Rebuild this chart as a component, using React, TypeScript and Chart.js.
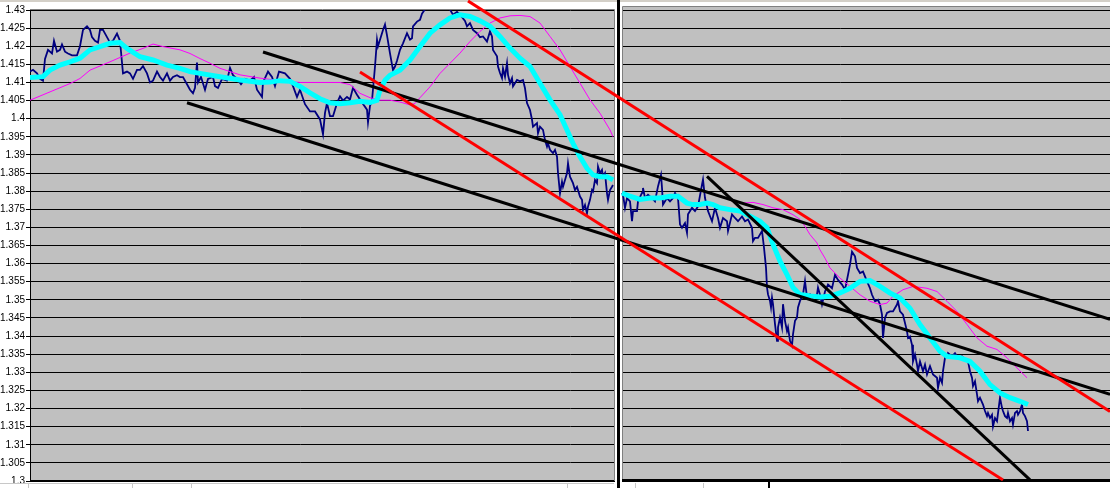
import React, { useEffect, useRef } from 'react';
import { Chart, registerables } from 'chart.js';

Chart.register(...registerables);

// ---- axis ----
const yTicks = [1.3, 1.305, 1.31, 1.315, 1.32, 1.325, 1.33, 1.335, 1.34, 1.345, 1.35, 1.355, 1.36, 1.365, 1.37, 1.375, 1.38, 1.385, 1.39, 1.395, 1.4, 1.405, 1.41, 1.415, 1.42, 1.425, 1.43];
const yTickLabels = ['1.3', '1.305', '1.31', '1.315', '1.32', '1.325', '1.33', '1.335', '1.34', '1.345', '1.35', '1.355', '1.36', '1.365', '1.37', '1.375', '1.38', '1.385', '1.39', '1.395', '1.4', '1.405', '1.41', '1.415', '1.42', '1.425', '1.43'];
const timeMin = 30;
const timeMax = 1110;
const leftPanelEnd = 614;
const rightPanelStart = 622;

// ---- left panel: price ----
const leftTime = [30, 33, 37, 40, 43, 45, 48, 52, 54, 57, 60, 62, 65, 68, 72, 77, 80, 83, 87, 90, 92, 95, 98, 100, 103, 107, 110, 113, 117, 120, 123, 127, 130, 133, 137, 140, 143, 147, 150, 153, 157, 160, 163, 167, 170, 173, 177, 180, 183, 187, 190, 193, 195, 197, 198, 201, 205, 208, 213, 215, 218, 222, 227, 230, 233, 237, 241, 245, 250, 254, 257, 262, 263, 268, 272, 275, 279, 285, 290, 293, 297, 300, 305, 310, 315, 320, 323, 325, 327, 330, 333, 337, 340, 343, 347, 350, 353, 357, 362, 367, 368, 370, 372, 375, 377, 378, 380, 383, 385, 387, 390, 393, 395, 397, 400, 403, 407, 410, 412, 413, 417, 420, 422, 425, 428, 432, 436, 440, 444, 448, 450, 453, 457, 460, 465, 467, 470, 473, 477, 480, 483, 487, 490, 492, 493, 495, 497, 498, 500, 502, 503, 505, 507, 508, 510, 512, 513, 517, 520, 523, 525, 527, 530, 532, 533, 537, 538, 540, 543, 545, 547, 548, 550, 553, 555, 557, 558, 560, 562, 563, 565, 567, 568, 570, 573, 575, 577, 580, 582, 583, 585, 587, 588, 590, 592, 593, 595, 597, 598, 600, 602, 603, 605, 607, 608, 610, 612, 613];
const leftPrice = [1.413, 1.4135, 1.4125, 1.411, 1.4105, 1.4165, 1.419, 1.418, 1.4215, 1.4185, 1.419, 1.4205, 1.4185, 1.418, 1.4175, 1.4175, 1.42, 1.4245, 1.4255, 1.4245, 1.4225, 1.4215, 1.421, 1.4245, 1.4245, 1.4225, 1.421, 1.4215, 1.4235, 1.4215, 1.4125, 1.413, 1.4125, 1.411, 1.4135, 1.4135, 1.4145, 1.4125, 1.41, 1.4105, 1.413, 1.4115, 1.4105, 1.4125, 1.4105, 1.4115, 1.412, 1.4115, 1.4115, 1.4095, 1.408, 1.407, 1.4085, 1.4155, 1.41, 1.4115, 1.408, 1.411, 1.4115, 1.409, 1.4085, 1.411, 1.4105, 1.414, 1.412, 1.411, 1.4095, 1.411, 1.4105, 1.4115, 1.408, 1.406, 1.41, 1.413, 1.4115, 1.409, 1.413, 1.4125, 1.411, 1.409, 1.406, 1.408, 1.404, 1.402, 1.402, 1.3998, 1.3957, 1.4016, 1.4043, 1.4007, 1.4007, 1.4043, 1.4062, 1.405, 1.406, 1.4053, 1.4085, 1.4066, 1.4045, 1.4025, 1.399, 1.4035, 1.405, 1.4144, 1.4218, 1.42, 1.4218, 1.4245, 1.426, 1.423, 1.418, 1.4134, 1.4144, 1.416, 1.419, 1.4208, 1.4236, 1.4218, 1.4222, 1.4255, 1.4268, 1.4273, 1.429, 1.4302, 1.4315, 1.432, 1.4325, 1.4318, 1.4322, 1.4312, 1.4301, 1.4287, 1.4295, 1.4287, 1.427, 1.4255, 1.4264, 1.4245, 1.4236, 1.4225, 1.4227, 1.4213, 1.4241, 1.4227, 1.419, 1.4181, 1.4172, 1.4144, 1.4126, 1.4112, 1.4139, 1.4116, 1.4153, 1.4121, 1.4098, 1.4112, 1.4089, 1.4107, 1.4103, 1.4107, 1.4084, 1.4043, 1.4024, 1.3997, 1.3978, 1.3988, 1.396, 1.3978, 1.3969, 1.3941, 1.3923, 1.3932, 1.3914, 1.3905, 1.3914, 1.3895, 1.385, 1.3794, 1.3826, 1.3812, 1.3831, 1.385, 1.3877, 1.384, 1.3822, 1.3803, 1.3812, 1.3785, 1.3776, 1.3748, 1.3762, 1.3739, 1.3757, 1.3776, 1.3803, 1.3799, 1.3831, 1.3822, 1.3868, 1.385, 1.3859, 1.384, 1.385, 1.3794, 1.3776, 1.3803, 1.3812, 1.3817];

// ---- left panel: short moving average (cyan) ----
const leftFastTime = [30, 43, 50, 60, 70, 80, 90, 100, 110, 120, 127, 140, 153, 167, 180, 190, 200, 220, 240, 260, 270, 280, 290, 300, 310, 320, 330, 340, 350, 360, 370, 377, 380, 385, 390, 400, 410, 420, 430, 440, 450, 460, 470, 480, 490, 500, 510, 520, 530, 540, 550, 560, 567, 573, 580, 587, 593, 600, 607, 613];
const leftFastMA = [1.4114, 1.4116, 1.4134, 1.4148, 1.4157, 1.4167, 1.419, 1.4199, 1.4208, 1.421, 1.4194, 1.4171, 1.4162, 1.4148, 1.4139, 1.413, 1.4125, 1.4116, 1.4107, 1.41, 1.4101, 1.4105, 1.4103, 1.4089, 1.4071, 1.4055, 1.4044, 1.4041, 1.4044, 1.4048, 1.4045, 1.4051, 1.4079, 1.4106, 1.412, 1.4134, 1.4162, 1.4199, 1.4236, 1.4259, 1.4278, 1.4287, 1.4282, 1.427, 1.4255, 1.4227, 1.4195, 1.4167, 1.4144, 1.4098, 1.4052, 1.4011, 1.3969, 1.3932, 1.3895, 1.3863, 1.3845, 1.384, 1.384, 1.3831];

// ---- left panel: long moving average (magenta) ----
const leftSlowTime = [30, 50, 70, 80, 90, 110, 130, 143, 153, 163, 180, 190, 200, 210, 220, 240, 260, 280, 300, 320, 340, 350, 360, 370, 380, 390, 400, 410, 415, 420, 430, 440, 450, 460, 470, 480, 490, 500, 510, 520, 530, 540, 550, 560, 570, 580, 590, 600, 610, 613];
const leftSlowMA = [1.4051, 1.4074, 1.4097, 1.4111, 1.4134, 1.4157, 1.4181, 1.4194, 1.4206, 1.4199, 1.419, 1.418, 1.4166, 1.4153, 1.4139, 1.4121, 1.4112, 1.4105, 1.41, 1.41, 1.41, 1.4094, 1.407, 1.4058, 1.4051, 1.4051, 1.4046, 1.4038, 1.4042, 1.4058, 1.4088, 1.4125, 1.4153, 1.4181, 1.4213, 1.4241, 1.4264, 1.4278, 1.4284, 1.4285, 1.4282, 1.4264, 1.4227, 1.419, 1.4144, 1.4098, 1.4052, 1.4015, 1.3969, 1.395];

// ---- right panel: price ----
const rightTime = [622, 623, 625, 627, 630, 632, 633, 637, 638, 642, 643, 645, 648, 652, 655, 658, 661, 662, 663, 667, 670, 673, 675, 678, 680, 682, 685, 687, 688, 692, 695, 698, 702, 703, 705, 708, 712, 715, 718, 720, 723, 727, 728, 732, 735, 738, 742, 745, 748, 752, 753, 755, 758, 762, 764, 766, 767, 768, 770, 771, 772, 773, 775, 777, 778, 780, 782, 783, 785, 787, 788, 790, 792, 793, 795, 797, 798, 800, 803, 805, 807, 810, 813, 817, 818, 820, 822, 825, 828, 832, 835, 838, 842, 845, 848, 850, 852, 855, 857, 860, 863, 867, 870, 872, 875, 878, 880, 882, 883, 885, 887, 890, 893, 897, 898, 900, 903, 907, 908, 910, 912, 913, 915, 917, 918, 920, 923, 925, 927, 930, 933, 937, 938, 940, 942, 943, 945, 947, 948, 952, 955, 958, 962, 965, 968, 970, 972, 973, 975, 977, 978, 980, 983, 985, 987, 988, 990, 992, 993, 995, 997, 1000, 1002, 1003, 1005, 1007, 1008, 1010, 1012, 1013, 1015, 1017, 1018, 1020, 1022, 1023, 1025, 1027, 1028];
const rightPrice = [1.3795, 1.379, 1.3754, 1.3781, 1.3772, 1.3717, 1.3745, 1.3745, 1.3772, 1.3795, 1.3809, 1.3781, 1.379, 1.3781, 1.3772, 1.3813, 1.3845, 1.3809, 1.3763, 1.3781, 1.3772, 1.3781, 1.3795, 1.3781, 1.3708, 1.3699, 1.3712, 1.3685, 1.3736, 1.3754, 1.3745, 1.3758, 1.3818, 1.3832, 1.3781, 1.3745, 1.3717, 1.3754, 1.3726, 1.3699, 1.3726, 1.3717, 1.369, 1.3736, 1.3726, 1.3717, 1.373, 1.3717, 1.3722, 1.3699, 1.3662, 1.3671, 1.3671, 1.369, 1.3644, 1.3589, 1.3534, 1.3515, 1.3497, 1.3479, 1.3506, 1.3488, 1.3433, 1.3387, 1.3424, 1.3451, 1.3424, 1.3488, 1.3442, 1.3414, 1.3424, 1.3387, 1.3374, 1.3405, 1.3442, 1.3451, 1.3479, 1.3497, 1.3515, 1.3552, 1.3506, 1.3515, 1.3506, 1.3515, 1.3534, 1.3514, 1.3487, 1.3523, 1.3542, 1.3532, 1.3569, 1.3555, 1.3542, 1.3528, 1.3569, 1.3597, 1.3633, 1.362, 1.3588, 1.3574, 1.3578, 1.3551, 1.3532, 1.3514, 1.3496, 1.35, 1.3487, 1.3459, 1.3395, 1.345, 1.3464, 1.3468, 1.3468, 1.3487, 1.3496, 1.3468, 1.3459, 1.3413, 1.3395, 1.3399, 1.3376, 1.333, 1.3349, 1.3321, 1.3303, 1.333, 1.3303, 1.3321, 1.3294, 1.3317, 1.3294, 1.3285, 1.3257, 1.3285, 1.3271, 1.3303, 1.334, 1.3344, 1.3353, 1.3344, 1.3353, 1.334, 1.3344, 1.3335, 1.333, 1.3303, 1.3285, 1.3262, 1.3275, 1.3239, 1.322, 1.323, 1.3211, 1.3193, 1.3179, 1.3188, 1.3174, 1.3183, 1.3151, 1.3174, 1.3165, 1.323, 1.3202, 1.3193, 1.3179, 1.3174, 1.3188, 1.3165, 1.3174, 1.3156, 1.3188, 1.3193, 1.3183, 1.3193, 1.3211, 1.3188, 1.3179, 1.3165, 1.3138];

// ---- right panel: short moving average (cyan) ----
const rightFastTime = [622, 630, 640, 650, 660, 670, 678, 687, 693, 700, 707, 713, 720, 730, 740, 750, 760, 767, 773, 780, 787, 793, 800, 810, 820, 830, 840, 850, 860, 870, 880, 890, 900, 910, 920, 930, 940, 947, 960, 970, 980, 990, 1000, 1010, 1020, 1028];
const rightFastMA = [1.3795, 1.3786, 1.3777, 1.3781, 1.3781, 1.3786, 1.3786, 1.3767, 1.3763, 1.3763, 1.3767, 1.3763, 1.3754, 1.3749, 1.3745, 1.3731, 1.3717, 1.3699, 1.3653, 1.3607, 1.357, 1.3534, 1.3515, 1.3511, 1.3508, 1.351, 1.3519, 1.3532, 1.3551, 1.3553, 1.3537, 1.3519, 1.3505, 1.3477, 1.3432, 1.3395, 1.3358, 1.3344, 1.334, 1.333, 1.3303, 1.3266, 1.3243, 1.323, 1.322, 1.3211];

// ---- right panel: long moving average (magenta) ----
const rightSlowTime = [743, 753, 763, 773, 783, 793, 800, 805, 810, 817, 820, 825, 830, 840, 850, 860, 870, 880, 887, 893, 903, 913, 927, 937, 947, 957, 967, 977, 987, 997, 1007, 1017, 1027];
const rightSlowMA = [1.3767, 1.3769, 1.3763, 1.3754, 1.3749, 1.3735, 1.3722, 1.3703, 1.368, 1.3657, 1.3638, 1.3615, 1.3588, 1.356, 1.3537, 1.3514, 1.3496, 1.3487, 1.3491, 1.351, 1.3528, 1.3537, 1.3532, 1.3523, 1.3496, 1.3468, 1.3432, 1.3395, 1.3372, 1.3363, 1.334, 1.3312, 1.3285];

// ---- hand-drawn trend channels ----
const redUpperTime = [468, 1110];
const redUpper = [1.4325, 1.3192];
const redLowerTime = [360, 1003];
const redLower = [1.4129, 1.3003];
const blackUpperTime = [263, 1110];
const blackUpper = [1.4184, 1.3446];
const blackLowerTime = [187, 1110];
const blackLower = [1.4044, 1.3239];
const blackSteepTime = [707, 1030];
const blackSteep = [1.3841, 1.3003];

const pts = (xs: number[], ys: number[]) => xs.map((x, i) => ({ x, y: ys[i] }));

const framePlugin = {
  id: 'frame',
  beforeDraw(chart: any) {
    const { ctx, chartArea: a, scales } = chart;
    const x = scales.x;
    const rp = Math.round(x.getPixelForValue(rightPanelStart));
    ctx.save();
    ctx.fillStyle = '#ffffff';
    ctx.fillRect(0, 0, chart.width, chart.height);
    ctx.fillStyle = '#d4d0c8';
    ctx.fillRect(0, 0, chart.width, 2);
    ctx.fillStyle = '#c0c0c0';
    ctx.fillRect(a.left, a.top, a.right - a.left, a.bottom - a.top);
    ctx.fillRect(rp, a.top - 3, a.right - rp, 3);
    ctx.restore();
  },
  beforeDatasetsDraw(chart: any) {
    const { ctx, chartArea: a, scales } = chart;
    const x = scales.x;
    const lp = Math.round(x.getPixelForValue(leftPanelEnd));
    const rp = Math.round(x.getPixelForValue(rightPanelStart));
    ctx.save();
    // gap between the two panels
    ctx.fillStyle = '#ffffff';
    ctx.fillRect(lp + 1, 2, rp - lp - 1, chart.height);
    ctx.fillStyle = '#000000';
    ctx.fillRect(lp + 3, 0, 3, chart.height);
    // panel borders
    ctx.strokeStyle = '#808080';
    ctx.lineWidth = 1;
    ctx.beginPath();
    ctx.moveTo(a.left, a.top - 0.5);
    ctx.lineTo(lp + 0.5, a.top - 0.5);
    ctx.lineTo(lp + 0.5, a.bottom);
    ctx.moveTo(rp + 0.5, a.bottom);
    ctx.lineTo(rp + 0.5, a.top - 3.5);
    ctx.lineTo(a.right, a.top - 3.5);
    ctx.stroke();
    // bottom axis lines
    ctx.fillStyle = '#000000';
    ctx.fillRect(a.left, a.bottom - 1, lp - a.left, 2);
    ctx.fillRect(rp, a.bottom - 2, a.right - rp, 3);
    // spreadsheet cells below
    ctx.strokeStyle = '#c8c8c8';
    ctx.beginPath();
    ctx.moveTo(0, a.bottom + 2.5);
    ctx.lineTo(lp, a.bottom + 2.5);
    [28, 132, 191, 567, 635, 703].forEach((c) => {
      ctx.moveTo(c + 0.5, a.bottom + 2);
      ctx.lineTo(c + 0.5, chart.height);
    });
    ctx.stroke();
    ctx.fillStyle = '#000000';
    ctx.fillRect(768, a.bottom, 2, chart.height - a.bottom);
    ctx.restore();
  },
};

export default function App() {
  const ref = useRef<HTMLCanvasElement | null>(null);
  useEffect(() => {
    if (!ref.current) return;
    const line = (data: any, color: string, width: number, extra: any = {}) => ({
      data,
      borderColor: color,
      backgroundColor: color,
      borderWidth: width,
      pointRadius: 0,
      tension: 0,
      fill: false,
      ...extra,
    });
    const chart = new Chart(ref.current, {
      type: 'line',
      data: {
        datasets: [
          line(pts(redUpperTime, redUpper), '#ff0000', 3, { clip: false }),
          line(pts(redLowerTime, redLower), '#ff0000', 3),
          line(pts(blackUpperTime, blackUpper), '#000000', 3),
          line(pts(blackLowerTime, blackLower), '#000000', 3),
          line(pts(blackSteepTime, blackSteep), '#000000', 3),
          line(pts(leftFastTime, leftFastMA), '#00ffff', 5),
          line(pts(rightFastTime, rightFastMA), '#00ffff', 5),
          line(pts(leftSlowTime, leftSlowMA), '#ff00ff', 1),
          line(pts(rightSlowTime, rightSlowMA), '#ff00ff', 1),
          line(pts(leftTime, leftPrice), '#000080', 1.8),
          line(pts(rightTime, rightPrice), '#000080', 1.8),
        ],
      },
      options: {
        responsive: false,
        animation: false,
        events: [],
        layout: { padding: { top: 10, bottom: 6, left: 0, right: 0 } },
        plugins: { legend: { display: false }, tooltip: { enabled: false }, title: { display: false } },
        scales: {
          x: { type: 'linear', display: false, min: timeMin, max: timeMax },
          y: {
            type: 'linear',
            min: 1.3,
            max: 1.43,
            afterFit: (s: any) => {
              s.width = 30;
            },
            afterBuildTicks: (s: any) => {
              s.ticks = yTicks.map((v) => ({ value: v }));
            },
            ticks: {
              autoSkip: false,
              padding: 1,
              color: '#000000',
              font: { family: "'Liberation Sans', Arial, sans-serif", size: 10 },
              callback: (_v: any, i: number) => yTickLabels[i],
            },
            grid: { color: '#000000', lineWidth: 1, tickLength: 4, drawTicks: true },
            border: { display: true, color: '#000000', width: 1 },
          },
        },
      },
      plugins: [framePlugin],
    } as any);
    return () => chart.destroy();
  }, []);
  return (
    <div style={{ position: 'fixed', left: 0, top: 0, width: 1110, height: 488, background: '#fff' }}>
      <canvas ref={ref} width={1110} height={488} style={{ display: 'block' }} />
    </div>
  );
}
